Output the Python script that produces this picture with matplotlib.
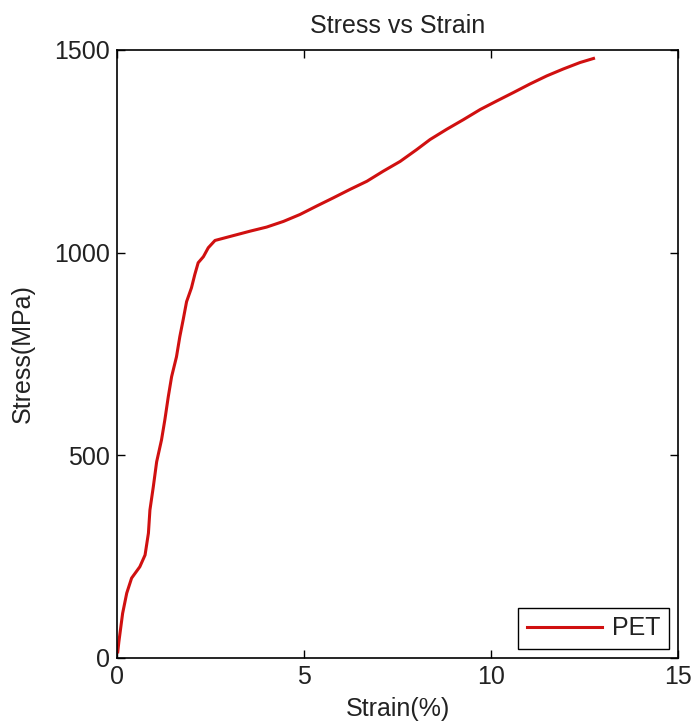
import numpy as np
import matplotlib.pyplot as plt

plt.rcParams['font.family'] = ['Liberation Sans', 'DejaVu Sans']

# PET tensile test, strain in %, stress in MPa
strain = [0.02, 0.05, 0.15, 0.26, 0.39, 0.61, 0.75, 0.84, 0.88, 0.97, 1.06,
          1.19, 1.28, 1.37, 1.46, 1.59, 1.68, 1.77, 1.86, 1.99, 2.08, 2.17,
          2.31, 2.44, 2.62, 3.11, 3.56, 4.00, 4.45, 4.89, 5.34, 5.78, 6.23,
          6.68, 7.12, 7.57, 8.01, 8.37, 8.81, 9.26, 9.71, 10.15, 10.60,
          11.04, 11.49, 11.93, 12.38, 12.74]
stress = [15, 40, 110, 160, 197, 225, 254, 308, 365, 422, 484,
          538, 588, 644, 694, 743, 793, 835, 879, 913, 946, 975,
          990, 1012, 1030, 1042, 1053, 1063, 1077, 1094, 1115, 1135, 1156,
          1176, 1201, 1225, 1254, 1279, 1304, 1328, 1353, 1374, 1395,
          1416, 1436, 1453, 1469, 1479]

fig = plt.figure(figsize=(6.94, 7.26), dpi=100)
ax = fig.add_axes([0.1686, 0.0937, 0.8084, 0.8375])

ax.plot(strain, stress, color='#d01010', linewidth=2.2, label='PET')

ax.set_xlim(0, 15)
ax.set_ylim(0, 1500)
ax.set_xticks([0, 5, 10, 15])
ax.set_yticks([0, 500, 1000, 1500])
ax.tick_params(direction='in', top=True, right=True, length=6, width=1,
               labelsize=18, labelcolor='#222222', pad=5)
for s in ax.spines.values():
    s.set_linewidth(1.2)

ax.set_title('Stress vs Strain', fontsize=18, pad=12, color='#222222')
ax.set_xlabel('Strain(%)', fontsize=18, labelpad=6, color='#222222')
ax.set_ylabel('Stress(MPa)', fontsize=18, labelpad=14, color='#222222')

leg = ax.legend(loc='lower right', fontsize=18, frameon=True, fancybox=False,
                edgecolor='black', framealpha=1, handlelength=3.0,
                borderaxespad=0.35, borderpad=0.35, handletextpad=0.4)
leg.get_frame().set_linewidth(1.0)
for t in leg.get_texts():
    t.set_color('#222222')

fig.savefig('out.png', dpi=100)
